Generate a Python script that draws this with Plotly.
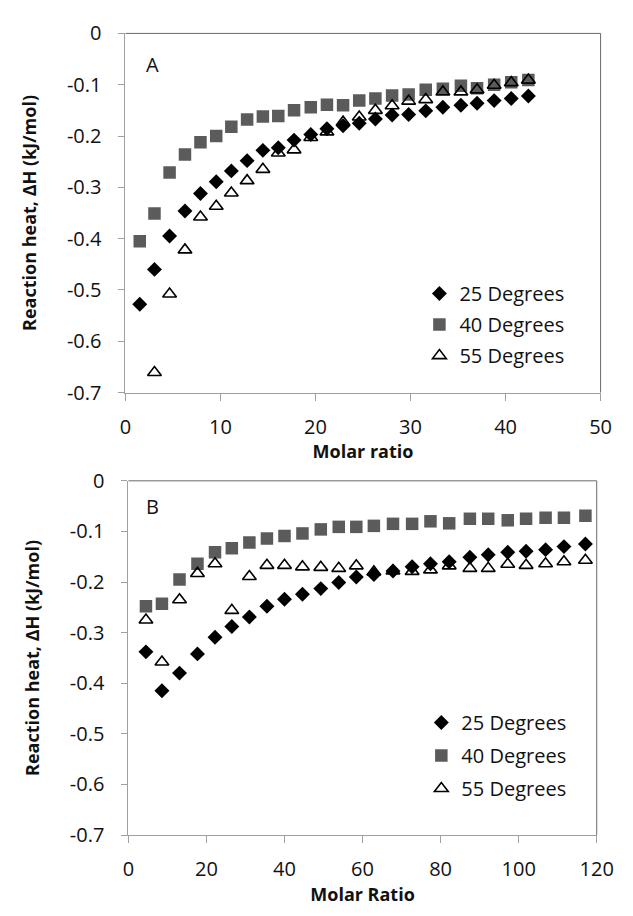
import plotly.graph_objects as go

# ---------------- data ----------------
series_names = ["25 Degrees", "40 Degrees", "55 Degrees"]

# Panel A (x axis: Molar ratio)
xa = [1.5, 3.05, 4.64, 6.26, 7.89, 9.55, 11.14, 12.8, 14.46, 16.08, 17.74, 19.5, 21.2,
      22.9, 24.6, 26.3, 28.06, 29.8, 31.6, 33.4, 35.3, 37.0, 38.8, 40.6, 42.4]
a25 = [-0.528, -0.460, -0.395, -0.346, -0.312, -0.289, -0.268, -0.248, -0.228, -0.223,
       -0.208, -0.197, -0.186, -0.180, -0.175, -0.167, -0.159, -0.158, -0.151, -0.144,
       -0.140, -0.136, -0.131, -0.127, -0.122]
a40 = [-0.405, -0.351, -0.271, -0.236, -0.212, -0.200, -0.182, -0.168, -0.162, -0.161,
       -0.150, -0.144, -0.139, -0.140, -0.131, -0.127, -0.121, -0.119, -0.110, -0.108,
       -0.102, -0.107, -0.100, -0.095, -0.091]
xa55 = xa[1:]
a55 = [-0.661, -0.508, -0.422, -0.358, -0.337, -0.311, -0.287, -0.265, -0.233, -0.227,
       -0.203, -0.192, -0.173, -0.163, -0.150, -0.141, -0.132, -0.129, -0.114, -0.114,
       -0.110, -0.101, -0.096, -0.091]

# Panel B (x axis: Molar Ratio)
xb = [4.5, 8.6, 13.1, 17.7, 22.2, 26.5, 31.0, 35.5, 40.0, 44.6, 49.3, 53.9, 58.4, 62.9,
      67.8, 72.7, 77.4, 82.2, 87.5, 92.2, 97.2, 101.9, 106.9, 111.6, 117.1]
b25 = [-0.338, -0.415, -0.380, -0.342, -0.309, -0.288, -0.269, -0.248, -0.234, -0.224,
       -0.213, -0.201, -0.190, -0.185, -0.178, -0.170, -0.164, -0.160, -0.151, -0.146,
       -0.141, -0.139, -0.136, -0.130, -0.125]
b40 = [-0.248, -0.243, -0.195, -0.164, -0.141, -0.133, -0.122, -0.114, -0.109, -0.104,
       -0.096, -0.091, -0.091, -0.089, -0.085, -0.085, -0.080, -0.084, -0.075, -0.075,
       -0.078, -0.075, -0.073, -0.073, -0.069]
b55 = [-0.275, -0.358, -0.235, -0.183, -0.164, -0.256, -0.189, -0.167, -0.167, -0.170,
       -0.171, -0.173, -0.168, -0.180, -0.178, -0.179, -0.176, -0.168, -0.173, -0.173,
       -0.165, -0.167, -0.164, -0.160, -0.157]

y_tickvals = [0, -0.1, -0.2, -0.3, -0.4, -0.5, -0.6, -0.7]
y_ticktext = ["0", "-0.1", "-0.2", "-0.3", "-0.4", "-0.5", "-0.6", "-0.7"]
xa_ticks = [0, 10, 20, 30, 40, 50]
xb_ticks = [0, 20, 40, 60, 80, 100, 120]

y_title = "Reaction heat, ΔH (kJ/mol)"
xa_title = "Molar ratio"
xb_title = "Molar Ratio"

# ---------------- styles ----------------
FONT = "Open Sans, Noto Sans, sans-serif"
TXT = "#111111"
W, H = 633, 916
sym = {
    "25 Degrees": dict(symbol="diamond", size=11.5, color="black"),
    "40 Degrees": dict(symbol="square", size=12.5, color="#5b5b5b"),
    "55 Degrees": dict(symbol="triangle-up-open", size=12, color="black",
                       line=dict(width=1.6, color="black")),
}

fig = go.Figure()

def add(x, y, name, xax, yax, leg):
    fig.add_trace(go.Scatter(x=x, y=y, mode="markers", name=name, marker=sym[name],
                             xaxis=xax, yaxis=yax, legend=leg, legendgroup=leg + name))

add(xa, a25, "25 Degrees", "x", "y", "legend")
add(xa, a40, "40 Degrees", "x", "y", "legend")
add(xa55, a55, "55 Degrees", "x", "y", "legend")
add(xb, b25, "25 Degrees", "x2", "y2", "legend2")
add(xb, b40, "40 Degrees", "x2", "y2", "legend2")
add(xb, b55, "55 Degrees", "x2", "y2", "legend2")

def px_x(p):
    return p / W

def px_y(p):
    return 1 - p / H

axis_common = dict(showgrid=False, zeroline=False, showline=True, linecolor="#a0a0a0",
                   linewidth=1, ticks="outside", tickcolor="#a0a0a0",
                   tickfont=dict(family=FONT, size=20, color=TXT))
title_font = dict(family=FONT, size=18, color=TXT, weight="bold")

fig.update_layout(
    width=W, height=H, margin=dict(l=0, r=0, t=0, b=0),
    plot_bgcolor="white", paper_bgcolor="white",
    xaxis=dict(domain=[px_x(124), px_x(617)], range=[0, 50], tickvals=xa_ticks,
               anchor="y", ticklen=7, ticklabelstandoff=9,
               title=dict(text=xa_title, font=title_font, standoff=4), **axis_common),
    yaxis=dict(domain=[px_y(390), px_y(20)], range=[-0.7, 0], tickvals=y_tickvals,
               ticktext=y_ticktext, anchor="x", ticklen=6, ticklabelstandoff=13,
               title=dict(text=y_title, font=title_font, standoff=25), **axis_common),
    xaxis2=dict(domain=[px_x(127), px_x(613)], range=[0, 120], tickvals=xb_ticks,
                anchor="y2", ticklen=7, ticklabelstandoff=9,
                title=dict(text=xb_title, font=title_font, standoff=6), **axis_common),
    yaxis2=dict(domain=[px_y(846), px_y(481)], range=[-0.7, 0], tickvals=y_tickvals,
                ticktext=y_ticktext, anchor="x2", ticklen=6, ticklabelstandoff=13,
                title=dict(text=y_title, font=title_font, standoff=25), **axis_common),
    legend=dict(x=px_x(429), xanchor="left", y=px_y(268), yanchor="top",
                bgcolor="rgba(0,0,0,0)", font=dict(family=FONT, size=20, color=TXT),
                itemwidth=30, tracegroupgap=2, traceorder="grouped"),
    legend2=dict(x=px_x(431), xanchor="left", y=px_y(710), yanchor="top",
                 bgcolor="rgba(0,0,0,0)", font=dict(family=FONT, size=20, color=TXT),
                 itemwidth=30, tracegroupgap=4, traceorder="grouped"),
    showlegend=True,
)

# top/right frame lines of each plot area
for xr, yr in (("x domain", "y domain"), ("x2 domain", "y2 domain")):
    fig.add_shape(type="line", xref=xr, yref=yr, x0=0, x1=1, y0=1, y1=1,
                  line=dict(color="#6a6a6a", width=1))
    fig.add_shape(type="line", xref=xr, yref=yr, x0=1, x1=1, y0=0, y1=1,
                  line=dict(color="#6a6a6a", width=1))

# panel letters
fig.add_annotation(text="A", xref="paper", yref="paper", x=px_x(152), y=px_y(52),
                   xanchor="center", yanchor="middle", showarrow=False,
                   font=dict(family=FONT, size=20, color=TXT))
fig.add_annotation(text="B", xref="paper", yref="paper", x=px_x(152), y=px_y(507),
                   xanchor="center", yanchor="middle", showarrow=False,
                   font=dict(family=FONT, size=20, color=TXT))

fig.write_html("out.html")
